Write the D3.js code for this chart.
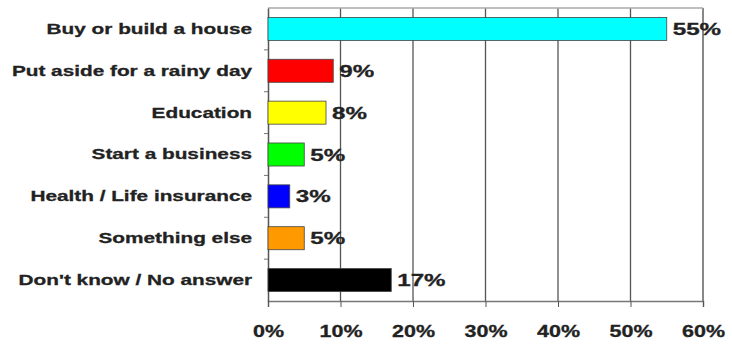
<!DOCTYPE html>
<html><head><meta charset="utf-8">
<script src="https://cdn.jsdelivr.net/npm/d3@7"></script>
<style>body{margin:0;background:#fff}svg{display:block}</style>
</head><body>
<script>
const categories = ["Buy or build a house","Put aside for a rainy day","Education","Start a business","Health / Life insurance","Something else","Don't know / No answer"];
const values = [55, 9, 8, 5, 3, 5, 17];
const colors = ["#00ffff","#ff0000","#ffff00","#00ff00","#0000ff","#ff9900","#000000"];
const tickValues = [0,10,20,30,40,50,60];

const W=732,H=347;
const FONT="Liberation Sans, Arial, sans-serif";
const m={left:268,right:29,top:8,bottom:46};
const svg=d3.select("body").append("svg").attr("width",W).attr("height",H);
const x=d3.scaleLinear().domain([0,60]).range([m.left,W-m.right]);
const y=d3.scaleBand().domain(categories).range([m.top,H-m.bottom]).paddingInner(0.45).paddingOuter(0.225);
const yb=d3.scaleBand().domain(categories).range([m.top,H-m.bottom]);

function stretch(sel,f){
  sel.each(function(){const w=this.getComputedTextLength();
    d3.select(this).attr("textLength",w*f).attr("lengthAdjust","spacingAndGlyphs");});
}

// gridlines
svg.append("g").selectAll("line").data(tickValues.slice(1)).join("line")
 .attr("x1",d=>x(d)).attr("x2",d=>x(d)).attr("y1",m.top).attr("y2",H-m.bottom)
 .attr("stroke",d=>d===60?"#888":"#555").attr("stroke-width",d=>d===60?2:1.3);
// top border
svg.append("line").attr("x1",x(0)).attr("x2",x(60)).attr("y1",m.top).attr("y2",m.top).attr("stroke","#aaa").attr("stroke-width",1.5);

// x axis
const xa=svg.append("g").attr("transform",`translate(0,${H-m.bottom})`)
 .call(d3.axisBottom(x).tickValues(tickValues).tickFormat(d=>d+"%").tickSize(6).tickPadding(19));
xa.select(".domain").attr("stroke","#777").attr("stroke-width",1.5);
xa.selectAll(".tick line").attr("stroke","#555");
xa.selectAll("text").attr("font-family",FONT).attr("font-weight","bold").attr("font-size",16).attr("fill","#222")
 .attr("stroke","#222").attr("stroke-width",0.3).call(stretch,1.34);

// y axis
const ya=svg.append("g").attr("transform",`translate(${m.left},0)`)
 .call(d3.axisLeft(y).tickSize(0).tickPadding(16));
ya.select(".domain").attr("stroke","#555").attr("stroke-width",1.5);
ya.selectAll("text").attr("font-family",FONT).attr("font-weight","bold").attr("font-size",15.5).attr("fill","#222")
 .attr("stroke","#222").attr("stroke-width",0.3).call(stretch,1.34);
svg.append("g").selectAll("line").data(categories.slice(1)).join("line")
 .attr("x1",m.left-4).attr("x2",m.left).attr("y1",d=>yb(d)).attr("y2",d=>yb(d)).attr("stroke","#777");

// bars
svg.append("g").selectAll("rect").data(values).join("rect")
 .attr("x",x(0)).attr("y",(d,i)=>y(categories[i])).attr("width",d=>x(d)-x(0)).attr("height",y.bandwidth())
 .attr("fill",(d,i)=>colors[i]).attr("stroke","#444").attr("stroke-width",0.8);

// value labels
svg.append("g").selectAll("text").data(values).join("text")
 .attr("x",d=>x(d)+6).attr("y",(d,i)=>y(categories[i])+y.bandwidth()/2).attr("dy","0.36em")
 .attr("font-family",FONT).attr("font-weight","bold").attr("font-size",17).attr("fill","#222")
 .attr("stroke","#222").attr("stroke-width",0.3)
 .text(d=>d+"%").call(stretch,1.42);
</script>
</body></html>
